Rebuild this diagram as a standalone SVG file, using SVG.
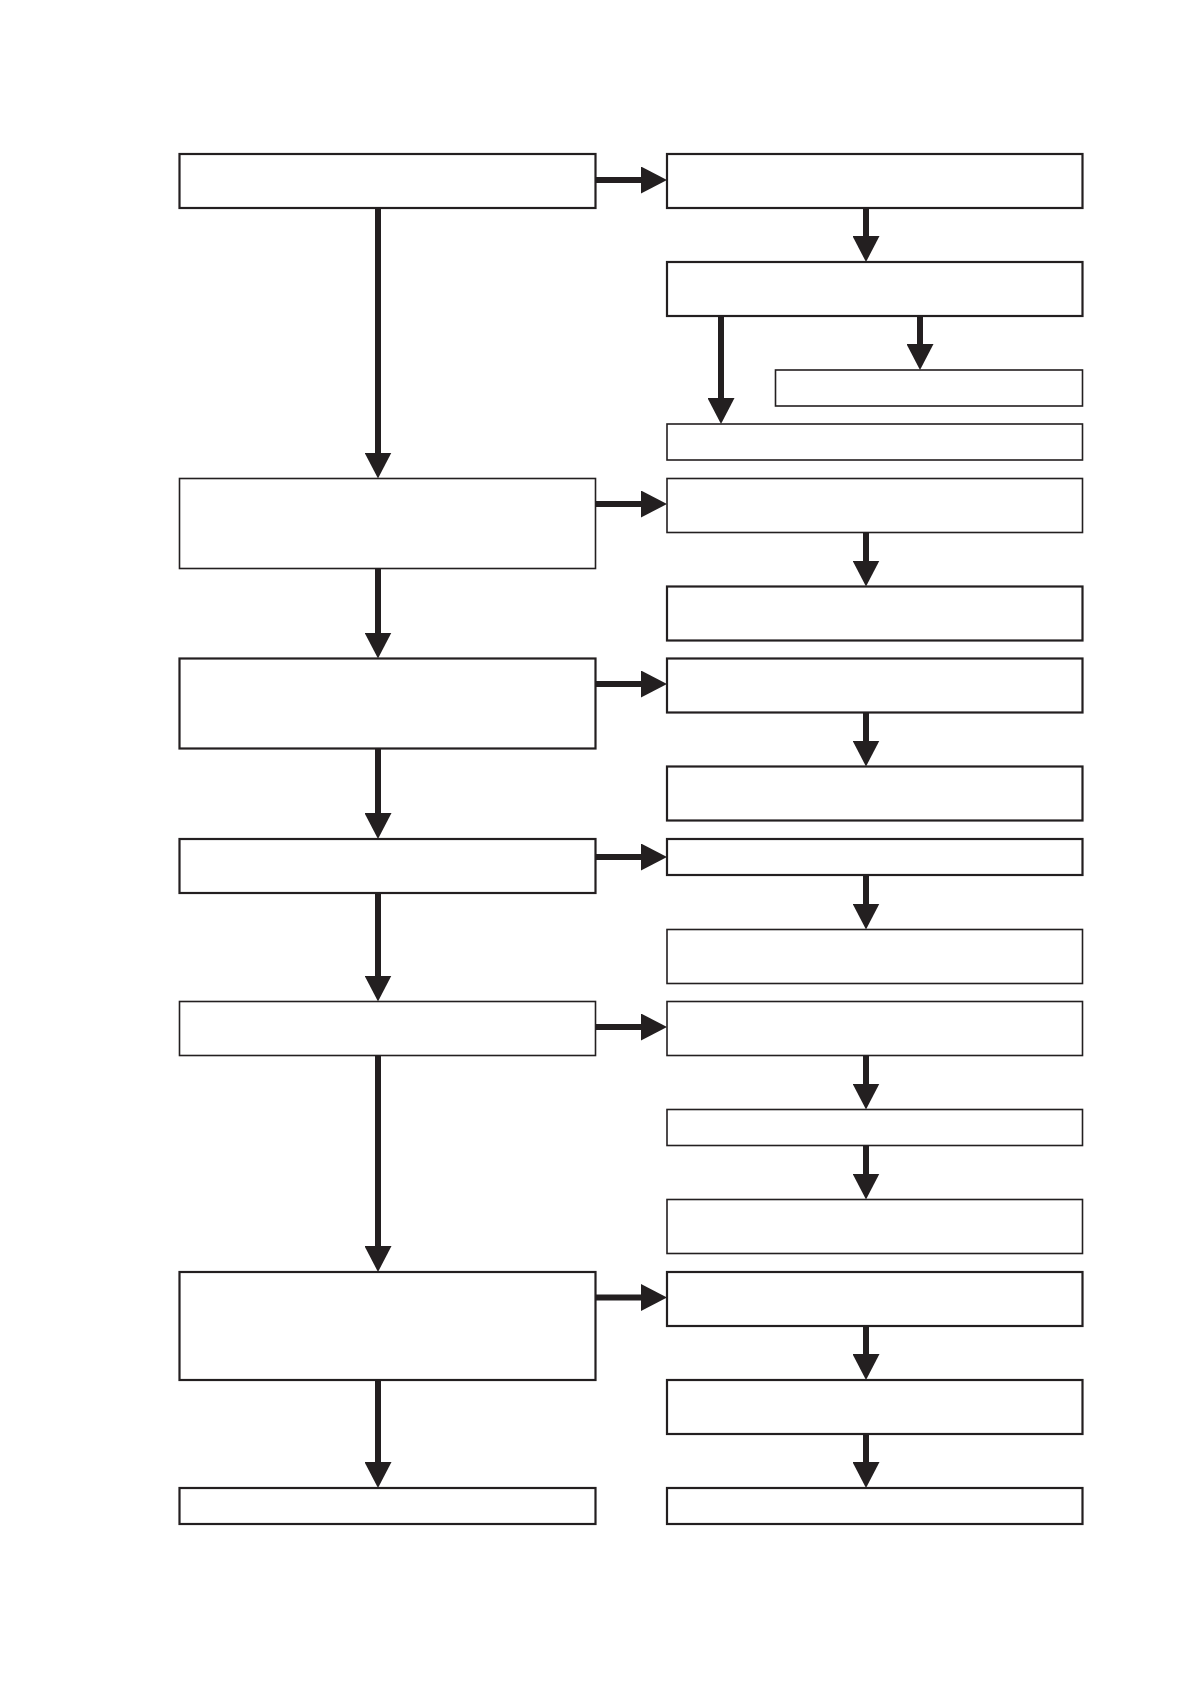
<svg xmlns="http://www.w3.org/2000/svg" width="1190" height="1684" viewBox="0 0 1190 1684">
  <style>
    .box { fill: #ffffff; stroke: #231f20; stroke-width: 2.2; }
    .thin { stroke-width: 1.6; }
    .conn { fill: none; stroke: #231f20; stroke-width: 6; marker-end: url(#ah); }
  </style>
  <defs>
    <marker id="ah" viewBox="0 0 26 27" refX="2" refY="13.5" markerWidth="26" markerHeight="27" markerUnits="userSpaceOnUse" orient="auto">
      <path d="M0,0 L26,13.5 L0,27 Z" fill="#231f20"/>
    </marker>
  </defs>
  <rect width="1190" height="1684" fill="#ffffff"/>

  <g id="connectors">
    <!-- left column vertical -->
    <path class="conn" d="M378,208 V454.5"/>
    <path class="conn" d="M378,568.5 V634.5"/>
    <path class="conn" d="M378,748.5 V815"/>
    <path class="conn" d="M378,893 V977.5"/>
    <path class="conn" d="M378,1055.5 V1248"/>
    <path class="conn" d="M378,1380 V1464"/>
    <!-- horizontal -->
    <path class="conn" d="M595.5,180 H643"/>
    <path class="conn" d="M595.5,504 H643"/>
    <path class="conn" d="M595.5,684 H643"/>
    <path class="conn" d="M595.5,857 H643"/>
    <path class="conn" d="M595.5,1027 H643"/>
    <path class="conn" d="M595.5,1297.5 H643"/>
    <!-- right column vertical -->
    <path class="conn" d="M866,208 V238"/>
    <path class="conn" d="M721,316 V400"/>
    <path class="conn" d="M920,316 V346"/>
    <path class="conn" d="M866,532.5 V562.5"/>
    <path class="conn" d="M866,712.5 V742.5"/>
    <path class="conn" d="M866,875 V905.5"/>
    <path class="conn" d="M866,1055.5 V1085.5"/>
    <path class="conn" d="M866,1145.5 V1175.5"/>
    <path class="conn" d="M866,1326 V1356"/>
    <path class="conn" d="M866,1434 V1464"/>
  </g>

  <g id="A1"><rect class="box" x="179.5" y="154" width="416" height="54"/></g>
  <g id="A2"><rect class="box thin" x="179.5" y="478.5" width="416" height="90"/></g>
  <g id="A3"><rect class="box" x="179.5" y="658.5" width="416" height="90"/></g>
  <g id="A4"><rect class="box" x="179.5" y="839" width="416" height="54"/></g>
  <g id="A5"><rect class="box thin" x="179.5" y="1001.5" width="416" height="54"/></g>
  <g id="A6"><rect class="box" x="179.5" y="1272" width="416" height="108"/></g>
  <g id="A7"><rect class="box" x="179.5" y="1488" width="416" height="36"/></g>

  <g id="B1"><rect class="box" x="667" y="154" width="415.5" height="54"/></g>
  <g id="B2"><rect class="box" x="667" y="262" width="415.5" height="54"/></g>
  <g id="B3"><rect class="box thin" x="775.5" y="370" width="307" height="36"/></g>
  <g id="B4"><rect class="box thin" x="667" y="424" width="415.5" height="36"/></g>
  <g id="B5"><rect class="box thin" x="667" y="478.5" width="415.5" height="54"/></g>
  <g id="B6"><rect class="box" x="667" y="586.5" width="415.5" height="54"/></g>
  <g id="B7"><rect class="box" x="667" y="658.5" width="415.5" height="54"/></g>
  <g id="B8"><rect class="box" x="667" y="766.5" width="415.5" height="54"/></g>
  <g id="B9"><rect class="box" x="667" y="839" width="415.5" height="36"/></g>
  <g id="B10"><rect class="box thin" x="667" y="929.5" width="415.5" height="54"/></g>
  <g id="B11"><rect class="box thin" x="667" y="1001.5" width="415.5" height="54"/></g>
  <g id="B12"><rect class="box thin" x="667" y="1109.5" width="415.5" height="36"/></g>
  <g id="B13"><rect class="box thin" x="667" y="1199.5" width="415.5" height="54"/></g>
  <g id="B14"><rect class="box" x="667" y="1272" width="415.5" height="54"/></g>
  <g id="B15"><rect class="box" x="667" y="1380" width="415.5" height="54"/></g>
  <g id="B16"><rect class="box" x="667" y="1488" width="415.5" height="36"/></g>
</svg>
